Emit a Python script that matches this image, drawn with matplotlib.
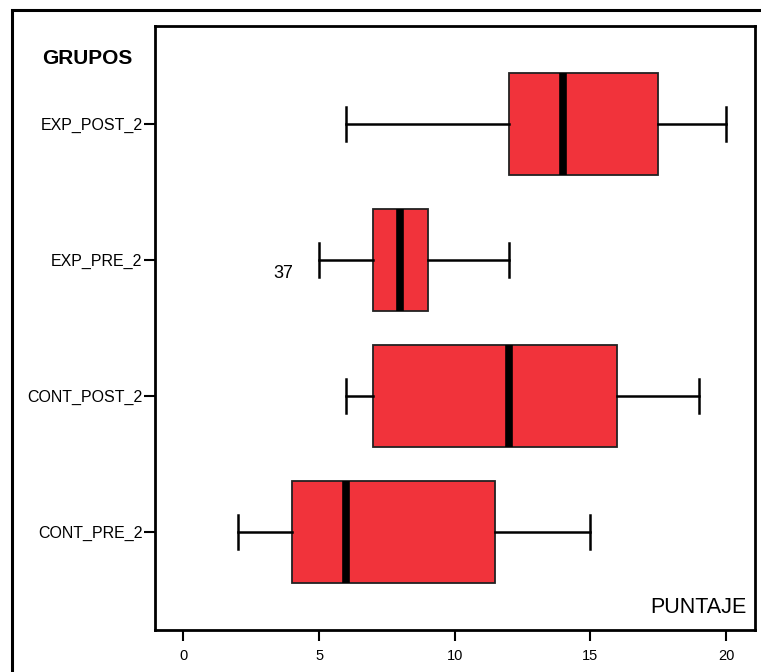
import matplotlib
matplotlib.use("Agg")
import matplotlib.pyplot as plt
from matplotlib.patches import Rectangle

plt.rcParams['font.family'] = ['Liberation Sans', 'DejaVu Sans']

# Box summary values (bottom to top)
grupos = ['CONT_PRE_2', 'CONT_POST_2', 'EXP_PRE_2', 'EXP_POST_2']
whis_lo = [2, 6, 5, 6]
q1 = [4, 7, 7, 12]
mediana = [6, 12, 8, 14]
q3 = [11.5, 16, 9, 17.5]
whis_hi = [15, 19, 12, 20]
x_ticks = [0, 5, 10, 15, 20]

fill_color = '#F1333B'


def build_stats():
    stats = []
    for i, g in enumerate(grupos):
        stats.append({
            'label': g,
            'whislo': whis_lo[i],
            'q1': q1[i],
            'med': mediana[i],
            'q3': q3[i],
            'whishi': whis_hi[i],
            'fliers': [],
        })
    return stats


def main():
    fig = plt.figure(figsize=(7.61, 6.72), dpi=100)
    W, H = 761, 672

    # outer frame (runs off the right and bottom edges)
    fig.patches.append(Rectangle((12 / W, -0.1), 1.2, 1.1 - 10 / H,
                                 transform=fig.transFigure, fill=False,
                                 edgecolor='black', linewidth=2.2))

    ax = fig.add_axes([155 / W, 1 - 630 / H, 600 / W, 604 / H])

    ax.bxp(build_stats(), positions=[1, 2, 3, 4], vert=False, widths=0.75,
           capwidths=0.25, patch_artist=True, showfliers=False,
           boxprops=dict(facecolor=fill_color, edgecolor='#222222', linewidth=1.3),
           whiskerprops=dict(color='black', linewidth=1.8),
           capprops=dict(color='black', linewidth=1.8),
           medianprops=dict(color='black', linewidth=5.5, solid_capstyle='butt'))

    ax.set_xlim(-1.05, 21.07)
    ax.set_ylim(0.28, 4.72)
    ax.set_xticks(x_ticks)
    ax.set_xticklabels([str(t) for t in x_ticks], fontsize=10.5)
    ax.set_yticks([1, 2, 3, 4])
    ax.set_yticklabels(grupos, fontsize=11.5)
    ax.tick_params(axis='x', length=8, width=1.5, direction='out', pad=6)
    ax.tick_params(axis='y', length=8, width=1.5, direction='out', pad=1)
    for s in ax.spines.values():
        s.set_linewidth(2)

    # outlier case label
    ax.text(4.05, 2.9, '37', fontsize=13, ha='right', va='center')
    ax.text(0.985, 0.02, 'PUNTAJE', transform=ax.transAxes, fontsize=15.5,
            ha='right', va='bottom')
    fig.text(42 / W, 1 - 58 / H, 'GRUPOS', fontsize=15, fontweight='bold',
             ha='left', va='center')

    fig.savefig('out.png', dpi=100)
    plt.close(fig)


if __name__ == "__main__":
    main()
